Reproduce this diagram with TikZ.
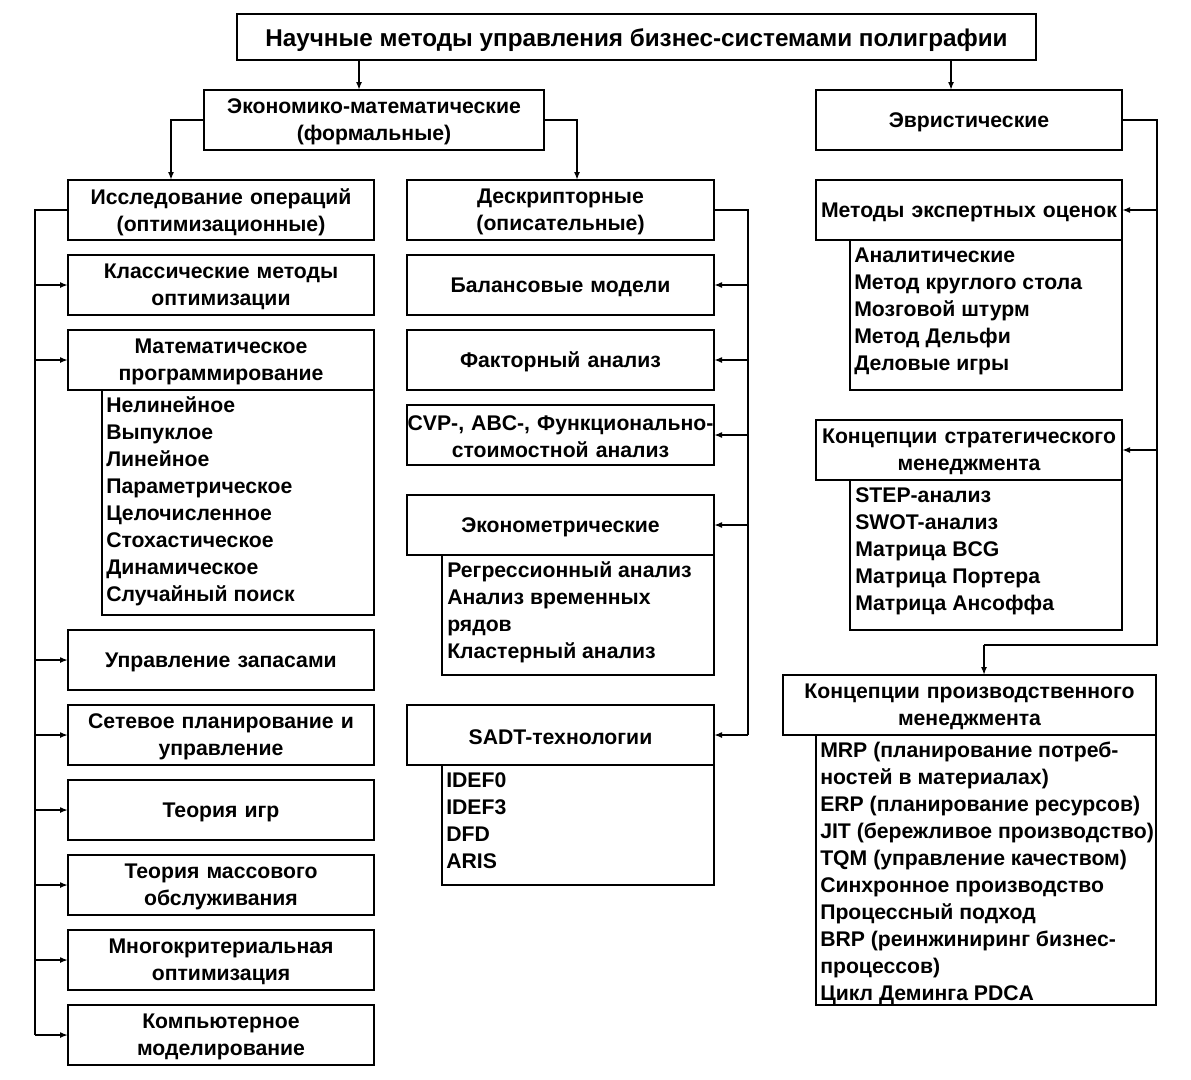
\documentclass[tikz,border=0pt]{standalone}
\usepackage{fontspec}
\setmainfont{Liberation Sans}
\usetikzlibrary{arrows.meta,calc}
\newcommand\bodyfont{\fontsize{15.9}{20.25}\selectfont\bfseries}
\newcommand\titlefont{\fontsize{18.2}{21}\selectfont\bfseries}
\tikzset{
  frame/.style={draw, line width=2pt, inner sep=0pt, outer sep=0pt},
  boxtext/.style={inner sep=0pt, outer sep=0pt, align=center, font=\bodyfont},
  subbox/.style={draw, line width=2pt, inner sep=0pt, outer sep=0pt, anchor=north west},
  item/.style={anchor=base west, inner sep=0pt, font=\bodyfont},
  conn/.style={line width=1.5pt},
  arr/.style={line width=1.5pt, -{Latex[length=6pt,width=4.5pt]}},
}
\newcommand\mybox[6]{%
  \pgfmathsetmacro\bw{(#4-#2)*0.75}%
  \pgfmathsetmacro\bh{(#5-#3)*0.75}%
  \node[frame, minimum width=\bw pt, minimum height=\bh pt] (#1) at ({(#2+#4)/2},{(#3+#5)/2}) {};
  \node[boxtext, text width=\bw pt] (#1-t) at ({(#2+#4)/2},{(#3+#5)/2+2}) {#6};}
\newcommand\mysub[5]{%
  \pgfmathsetmacro\bw{(#4-#2)*0.75}%
  \pgfmathsetmacro\bh{(#5-#3)*0.75}%
  \node[subbox, minimum width=\bw pt, minimum height=\bh pt] (#1) at (#2,#3) {};}
\newcommand\myitems[4]{%
  \foreach \t [count=\i] in {#4} {\node[item] (#1\i) at (#2,{#3+27*(\i-1)}) {\t};}}
\begin{document}
\begin{tikzpicture}[x=0.75pt,y=-0.75pt]
\useasboundingbox (0,0) rectangle (1191,1079);
% helper coordinates
\coordinate (cA) at (359,0);
\coordinate (cB) at (951,0);
\coordinate (cC) at (171,0);
\coordinate (cD) at (577,0);
\coordinate (busL) at (35,0);
\coordinate (busM) at (748,0);
\coordinate (busR) at (1157,0);
\coordinate (cE) at (984,645);

% title
\node[frame, minimum width=599.25pt, minimum height=34.5pt] (title) at (636.5,37) {};
\node[boxtext, font=\titlefont] (title-t) at (636.5,40) {Научные методы управления бизнес-системами полиграфии};

% level 2
\mybox{econ}{204}{90}{544}{150}{Экономико-математические\\(формальные)}
\mybox{heur}{816}{90}{1122}{150}{Эвристические}

% left column
\mybox{res}{68}{180}{374}{240}{Исследование операций\\(оптимизационные)}
\mybox{classic}{68}{255}{374}{315}{Классические методы\\оптимизации}
\mysub{mpsub}{102}{390}{374}{615}
\mybox{mathprog}{68}{330}{374}{390}{Математическое\\программирование}
\myitems{mp}{106}{412}{Нелинейное,Выпуклое,Линейное,Параметрическое,Целочисленное,Стохастическое,Динамическое,Случайный поиск}
\mybox{stock}{68}{630}{374}{690}{Управление запасами}
\mybox{net}{68}{705}{374}{765}{Сетевое планирование и\\управление}
\mybox{game}{68}{780}{374}{840}{Теория игр}
\mybox{queue}{68}{855}{374}{915}{Теория массового\\обслуживания}
\mybox{multi}{68}{930}{374}{990}{Многокритериальная\\оптимизация}
\mybox{comp}{68}{1005}{374}{1065}{Компьютерное\\моделирование}

% middle column
\mybox{desc}{407}{180}{714}{240}{Дескрипторные\\(описательные)}
\mybox{bal}{407}{255}{714}{315}{Балансовые модели}
\mybox{fact}{407}{330}{714}{390}{Факторный анализ}
\mybox{cvp}{407}{405}{714}{465}{CVP-, ABC-, Функционально-\\стоимостной анализ}
\mysub{ecsub}{442}{555}{714}{675}
\mybox{econo}{407}{495}{714}{555}{Эконометрические}
\myitems{ec}{447}{577}{Регрессионный анализ,Анализ временных,рядов,Кластерный анализ}
\mysub{sasub}{442}{765}{714}{885}
\mybox{sadt}{407}{705}{714}{765}{SADT-технологии}
\myitems{sa}{446}{787}{IDEF0,IDEF3,DFD,ARIS}

% right column
\mysub{exsub}{850}{240}{1122}{390}
\mybox{expert}{816}{180}{1122}{240}{Методы экспертных оценок}
\myitems{ex}{854}{262}{Аналитические,Метод круглого стола,Мозговой штурм,Метод Дельфи,Деловые игры}
\mysub{stsub}{850}{480}{1122}{630}
\mybox{strat}{816}{420}{1122}{480}{Концепции стратегического\\менеджмента}
\myitems{st}{855}{502}{STEP-анализ,SWOT-анализ,Матрица BCG,Матрица Портера,Матрица Ансоффа}
\mysub{prsub}{816}{735}{1156}{1005}
\mybox{prod}{783}{675}{1156}{735}{Концепции производственного\\менеджмента}
\myitems{pr}{820}{757}{MRP (планирование потреб-,ностей в материалах),ERP (планирование ресурсов),JIT (бережливое производство),TQM (управление качеством),Синхронное производство,Процессный подход,BRP (реинжиниринг бизнес-,процессов),Цикл Деминга PDCA}

% connectors
\draw[arr] (title.south -| cA) -- (econ.north -| cA);
\draw[arr] (title.south -| cB) -- (heur.north -| cB);
\draw[arr] (econ.west) -| (res.north -| cC);
\draw[arr] (econ.east) -| (desc.north -| cD);

% left bus
\draw[conn] (res.west) -- (busL |- res.west) -- (busL |- comp.west);
\foreach \n in {classic,mathprog,stock,net,game,queue,multi,comp}
  \draw[arr] (busL |- \n.west) -- (\n.west);

% middle bus
\draw[conn] (desc.east) -- (busM |- desc.east) -- (busM |- sadt.east);
\foreach \n in {bal,fact,cvp,econo,sadt}
  \draw[arr] (busM |- \n.east) -- (\n.east);

% right bus
\draw[conn] (heur.east) -- (busR |- heur.east) -- (busR |- cE) -- (cE);
\draw[arr] (cE) -- (prod.north -| cE);
\foreach \n in {expert,strat}
  \draw[arr] (busR |- \n.east) -- (\n.east);
\end{tikzpicture}
\end{document}
